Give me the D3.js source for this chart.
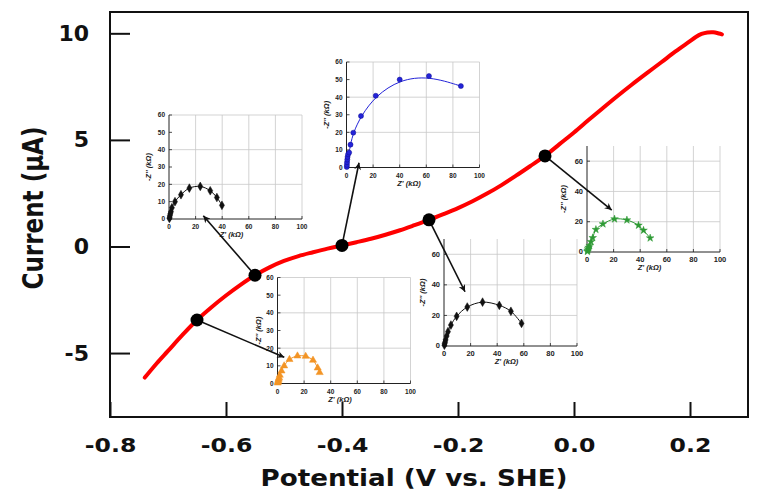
<!DOCTYPE html>
<html><head><meta charset="utf-8">
<script src="https://cdn.jsdelivr.net/npm/d3@7"></script>
<style>
html,body{margin:0;padding:0;background:#fff;}
svg text{font-family:"Liberation Sans",Arial,sans-serif;}
svg text.big{font-family:"DejaVu Sans",sans-serif;}
</style></head>
<body><svg id="c" width="762" height="496"></svg>
<script>
// ---- main polarization curve ----
const potential = [-0.74,-0.72,-0.70,-0.675,-0.65,-0.625,-0.60,-0.575,-0.55,-0.525,-0.50,-0.475,-0.45,-0.425,-0.40,-0.375,-0.35,-0.325,-0.30,-0.275,-0.25,-0.225,-0.20,-0.175,-0.15,-0.125,-0.10,-0.075,-0.05,-0.025,0.00,0.025,0.05,0.075,0.10,0.125,0.15,0.175,0.20,0.21,0.22,0.23,0.24,0.25,0.255];
const current   = [-6.15,-5.5,-4.9,-4.15,-3.45,-2.85,-2.3,-1.8,-1.35,-0.98,-0.68,-0.45,-0.27,-0.1,0.05,0.2,0.36,0.55,0.76,1.0,1.25,1.52,1.8,2.12,2.48,2.88,3.32,3.78,4.25,4.8,5.35,5.93,6.5,7.06,7.6,8.12,8.63,9.15,9.63,9.83,9.97,10.04,10.05,9.99,9.95];
const xTicks = [-0.8,-0.6,-0.4,-0.2,0.0,0.2];
const yTicks = [-5,0,5,10];
const xTitle = "Potential (V vs. SHE)";
const yTitle = "Current (\u03bcA)";

// ---- EIS points marked on curve ----
const dotPotential = [-0.65,-0.55,-0.40,-0.25,-0.05];
const dotCurrent   = [-3.45,-1.35,0.05,1.25,4.25];

// ---- Nyquist insets (Z' and -Z'' in kOhm) ----
const eisA_re = [0.2,0.4,0.6,0.9,1.2,1.7,3,5,9,15,21.2,26.7,30.2,31.7];          // -0.65 V (orange)
const eisA_im = [0.3,1,1.8,2.5,3.3,4.7,7.1,10,13.6,15.6,15.4,13.2,8.8,6.2];
const eisB_re = [0.3,0.5,0.7,1.0,1.5,2.2,4.5,9,15.3,23.5,31,36,39.8];              // -0.55 V (black)
const eisB_im = [0.3,1,2,3,4.2,6.5,10,14,17.8,18.8,16.3,12.4,7.9];
const eisC_re = [0.2,0.3,0.4,0.6,0.8,1.2,2,3,5.1,10.9,22,40,62,86];               // -0.40 V (blue)
const eisC_im = [0.3,1.5,3,4.5,6,7.5,8.5,13,19.8,29.3,40.8,50,52,46.3];
const eisD_re = [0.3,0.5,0.8,1.2,2,3,5.2,9.5,17.5,29,41.6,50.3,58.3];             // -0.25 V (black)
const eisD_im = [0.5,1.5,2.5,4,6.5,9.4,13.7,19.4,25.5,28.7,26.6,22.7,14.8];
const eisE_re = [0.3,0.5,0.8,1.2,2,3,4.3,6.7,12,20.7,30,38.7,42.5,47.5];          // -0.05 V (green)
const eisE_im = [0.3,1,2,3,4.2,6.8,9.4,14.8,18.5,21.8,21.1,17.6,14.3,9.2];
const insetXTicks = [0,20,40,60,80,100];
const insetYTicks60 = [0,10,20,30,40,50,60];
const insetYTicks70 = [0,20,40,60];
const insetXTitle = "Z' (k\u03a9)";
const insetYTitle = "-Z'' (k\u03a9)";
// arrow targets, in each inset's own Z coordinates
const arrowRe = [5.1,25.8,9.4,15.8,18.6];
const arrowIm = [14.8,1.9,2.7,35.5,27.7];

const svg = d3.select("#c");
const x = d3.scaleLinear().domain([-0.8,0.3]).range([110,748]);
const y = d3.scaleLinear().domain([-8,11]).range([417,12]);

svg.append("defs").append("marker").attr("id","ah")
  .attr("viewBox","0 0 10 10").attr("refX",10).attr("refY",5)
  .attr("markerWidth",9).attr("markerHeight",7).attr("markerUnits","userSpaceOnUse")
  .attr("orient","auto")
  .append("path").attr("d","M0,0 L10,5 L0,10 L3,5 z").attr("fill","#111");

// frame
svg.append("rect").attr("x",110).attr("y",12).attr("width",638).attr("height",405)
  .attr("fill","none").attr("stroke","#111").attr("stroke-width",2);

const gx = svg.append("g").attr("transform","translate(0,417)")
  .call(d3.axisBottom(x).tickValues(xTicks).tickSize(-15).tickPadding(21).tickFormat(d=>d.toFixed(1)));
gx.select(".domain").remove();
gx.selectAll("line").attr("stroke","#111").attr("stroke-width",2);
gx.selectAll("text").attr("class","big").attr("font-size",20).attr("font-weight","bold").attr("fill","#111")
  .each(function(){ const w=this.getComputedTextLength(); d3.select(this).attr("textLength",w*1.18).attr("lengthAdjust","spacingAndGlyphs"); });

const gy = svg.append("g").attr("transform","translate(110,0)")
  .call(d3.axisLeft(y).tickValues(yTicks).tickSize(-20).tickPadding(21).tickFormat(d=>String(d)));
gy.select(".domain").remove();
gy.selectAll("line").attr("stroke","#111").attr("stroke-width",2);
gy.selectAll("text").attr("class","big").attr("font-size",22).attr("font-weight","bold").attr("fill","#111");

svg.append("text").attr("class","big").attr("x",414).attr("y",486).attr("text-anchor","middle")
  .attr("font-size",23).attr("font-weight","bold").attr("fill","#111")
  .attr("textLength",307).attr("lengthAdjust","spacingAndGlyphs").text(xTitle);
svg.append("text").attr("class","big").attr("transform","translate(43,208) scale(1.25,1) rotate(-90)").attr("text-anchor","middle")
  .attr("font-size",23).attr("font-weight","bold").attr("fill","#111")
  .attr("textLength",163).attr("lengthAdjust","spacingAndGlyphs").text(yTitle);

// red curve
svg.append("path").datum(potential.map((p,i)=>[p,current[i]]))
  .attr("fill","none").attr("stroke","#f00").attr("stroke-width",4).attr("stroke-linecap","round")
  .attr("d",d3.line().x(d=>x(d[0])).y(d=>y(d[1])).curve(d3.curveCatmullRom));

// insets
const insets = [
  {re:eisA_re, im:eisA_im, ox:277.5, oy:383.5, h:106, ymax:60, yt:insetYTicks60, color:"#f39425", sym:d3.symbolTriangle, size:22, curve:d3.curveCatmullRom, tOff:-17},
  {re:eisB_re, im:eisB_im, ox:169,   oy:219,   h:104, ymax:60, yt:insetYTicks60, color:"#111",    sym:d3.symbolDiamond,  size:22, curve:d3.curveCatmullRom, tOff:-18},
  {re:eisC_re, im:eisC_im, ox:346.5, oy:167.5, h:105.5, ymax:60, yt:insetYTicks60, color:"#2323d8", sym:d3.symbolCircle, size:20, curve:d3.curveBasis, tOff:-18},
  {re:eisD_re, im:eisD_im, ox:444,   oy:346,   h:107, ymax:70, yt:insetYTicks70, color:"#111",    sym:d3.symbolDiamond,  size:22, curve:d3.curveCatmullRom, tOff:-19},
  {re:eisE_re, im:eisE_im, ox:587,   oy:252,   h:106, ymax:70, yt:insetYTicks70, color:"#2e9a35", sym:d3.symbolStar,     size:18, curve:d3.curveCatmullRom, tOff:-21},
];
const insetScales = [];
insets.forEach(c=>{
  const xs = d3.scaleLinear().domain([0,100]).range([c.ox,c.ox+133]);
  const ys = d3.scaleLinear().domain([0,c.ymax]).range([c.oy,c.oy-c.h]);
  insetScales.push([xs,ys]);
  const g = svg.append("g");
  const gridY = c.yt.filter(v=>v>0 && v%20===0);
  g.selectAll(".gv").data(insetXTicks.filter(v=>v>0)).join("line")
    .attr("x1",d=>xs(d)).attr("x2",d=>xs(d)).attr("y1",ys(0)).attr("y2",ys(c.ymax))
    .attr("stroke","#c8c8c8").attr("stroke-width",0.8);
  g.selectAll(".gh").data(gridY).join("line")
    .attr("x1",xs(0)).attr("x2",xs(100)).attr("y1",d=>ys(d)).attr("y2",d=>ys(d))
    .attr("stroke","#c8c8c8").attr("stroke-width",0.8);
  g.append("line").attr("x1",xs(0)).attr("x2",xs(100)).attr("y1",ys(0)).attr("y2",ys(0)).attr("stroke","#222").attr("stroke-width",1);
  g.append("line").attr("x1",xs(0)).attr("x2",xs(0)).attr("y1",ys(0)).attr("y2",ys(c.ymax)).attr("stroke","#222").attr("stroke-width",1);
  g.selectAll(".tx").data(insetXTicks).join("line")
    .attr("x1",d=>xs(d)).attr("x2",d=>xs(d)).attr("y1",ys(0)).attr("y2",ys(0)-3).attr("stroke","#222").attr("stroke-width",0.8);
  g.selectAll(".ty").data(c.yt).join("line")
    .attr("x1",xs(0)).attr("x2",xs(0)+3).attr("y1",d=>ys(d)).attr("y2",d=>ys(d)).attr("stroke","#222").attr("stroke-width",0.8);
  const fs = c.ymax===70 ? 7.5 : 6.5;
  g.selectAll(".lx").data(insetXTicks).join("text")
    .attr("x",d=>xs(d)).attr("y",ys(0)+10).attr("text-anchor","middle")
    .attr("font-size",fs).attr("font-weight","bold").attr("fill","#222").text(d=>d);
  g.selectAll(".ly").data(c.yt).join("text")
    .attr("x",xs(0)-4).attr("y",d=>ys(d)+2.4).attr("text-anchor","end")
    .attr("font-size",fs).attr("font-weight","bold").attr("fill","#222").text(d=>d);
  g.append("text").attr("x",xs(47)).attr("y",ys(0)+18).attr("text-anchor","middle")
    .attr("font-size",7.5).attr("font-style","italic").attr("font-weight","bold").attr("fill","#222").text(insetXTitle);
  g.append("text").attr("transform",`translate(${xs(0)+c.tOff},${ys(c.ymax/2)}) rotate(-90)`).attr("text-anchor","middle")
    .attr("font-size",7.5).attr("font-style","italic").attr("font-weight","bold").attr("fill","#222").text(insetYTitle);
  const pts = c.re.map((r,i)=>[r,c.im[i]]);
  g.append("path").datum(pts).attr("fill","none").attr("stroke",c.color).attr("stroke-width",1)
    .attr("d",d3.line().x(d=>xs(d[0])).y(d=>ys(d[1])).curve(c.curve));
  g.selectAll(".m").data(pts).join("path")
    .attr("transform",d=>`translate(${xs(d[0])},${ys(d[1])})`)
    .attr("d",d3.symbol().type(c.sym).size(c.size))
    .attr("fill",c.color).attr("stroke",c.color==="#2323d8"?"#0f0f90":c.color).attr("stroke-width",0.5);
});

// arrows from dots to insets
svg.selectAll(".arr").data(dotPotential).join("line")
  .attr("x1",d=>x(d)).attr("y1",(d,i)=>y(dotCurrent[i]))
  .attr("x2",(d,i)=>insetScales[i][0](arrowRe[i])).attr("y2",(d,i)=>insetScales[i][1](arrowIm[i]))
  .attr("stroke","#111").attr("stroke-width",1.6).attr("marker-end","url(#ah)");

svg.selectAll(".dot").data(dotPotential).join("circle")
  .attr("cx",d=>x(d)).attr("cy",(d,i)=>y(dotCurrent[i])).attr("r",6.5).attr("fill","#000");
</script></body></html>
